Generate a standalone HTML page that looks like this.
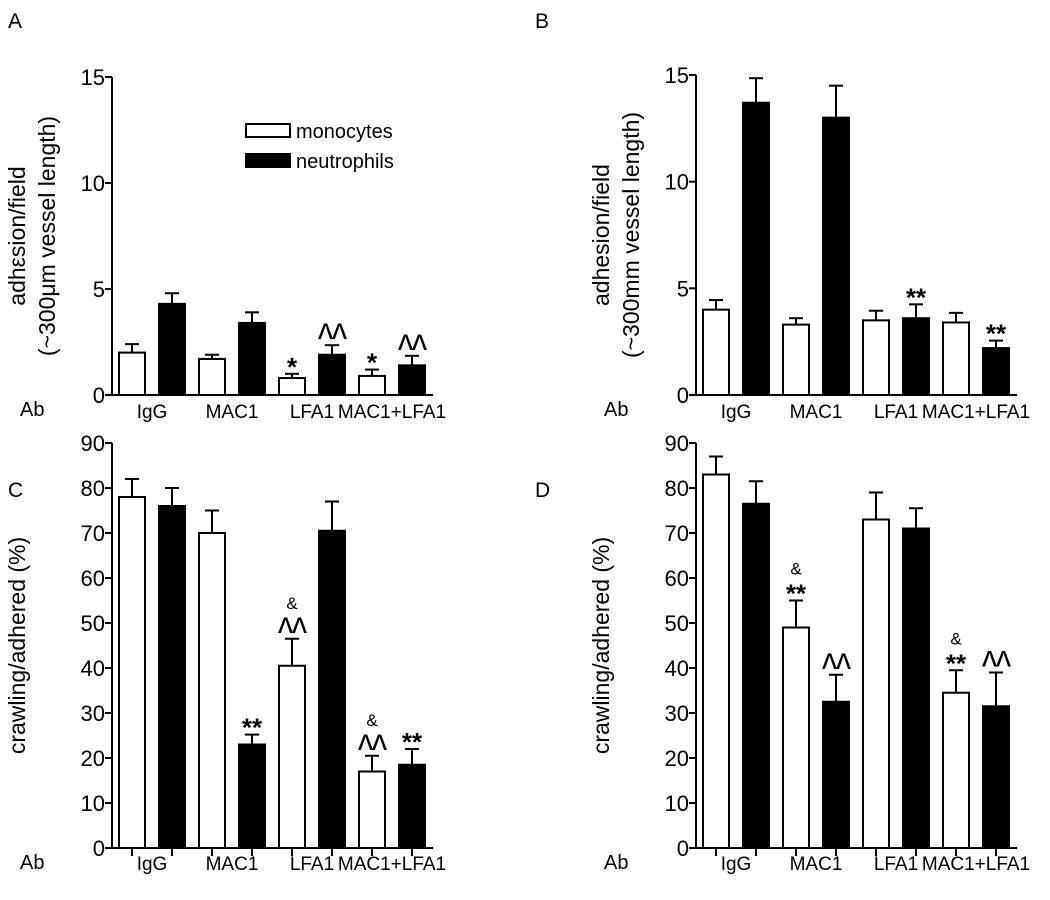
<!DOCTYPE html>
<html><head><meta charset="utf-8"><style>
body{margin:0;background:#fff}
svg{display:block;font-family:"Liberation Sans",Arial,sans-serif}
</style></head><body>
<svg id="fig" width="1050" height="900" viewBox="0 0 1050 900" xmlns="http://www.w3.org/2000/svg"></svg>
<script>
const categories = ["IgG","MAC1","LFA1","MAC1+LFA1"];
const aMono = [2.0,1.7,0.8,0.9], aMonoErr = [0.4,0.2,0.2,0.3];
const aNeut = [4.3,3.4,1.9,1.4], aNeutErr = [0.5,0.5,0.45,0.45];
const bMono = [4.0,3.3,3.5,3.4], bMonoErr = [0.45,0.3,0.45,0.45];
const bNeut = [13.7,13.0,3.6,2.2], bNeutErr = [1.15,1.5,0.65,0.35];
const cMono = [78,70,40.5,17], cMonoErr = [4,5,6,3.5];
const cNeut = [76,23,70.5,18.5], cNeutErr = [4,2.2,6.5,3.5];
const dMono = [83,49,73,34.5], dMonoErr = [4,6,6,5];
const dNeut = [76.5,32.5,71,31.5], dNeutErr = [5,6,4.5,7.5];
const adhTicks = [0,5,10,15];
const crawlTicks = [0,10,20,30,40,50,60,70,80,90];
const aMarks = [["",""],["",""],["*","^^"],["*","^^"]];
const bMarks = [["",""],["",""],["","**"],["","**"]];
const cMarks = [["",""],["","**"],["&|^^",""],["&|^^","**"]];
const dMarks = [["",""],["&|**","^^"],["",""],["&|**","^^"]];

const NS="http://www.w3.org/2000/svg";
const svg=document.getElementById('fig');
function mk(tag,attrs,parent,text){const e=document.createElementNS(NS,tag);for(const k in attrs)e.setAttribute(k,attrs[k]);if(text!==undefined)e.textContent=text;(parent||svg).appendChild(e);return e;}

function panel(p){
  const g=mk('g',{});
  
  
  const y=v=>p.y0-(v/p.ymax)*(p.y0-p.ytop);
  const xc=(i,s)=>p.ax+20+i*80+s*40;
  const lt=mk('text',{x:p.lx,y:p.ly,'font-size':21},g,p.letter);
  
  
  const ya=mk('line',{x1:p.ax,y1:p.y0+1,x2:p.ax,y2:y(p.ymax),stroke:'#000','stroke-width':2},g);
  
  
  p.ticks.forEach(t=>{
    mk('line',{x1:p.ax-7,y1:y(t),x2:p.ax,y2:y(t),stroke:'#000','stroke-width':2},g);
    const tl=mk('text',{x:p.ax-7,y:y(t)+8,'font-size':22,'text-anchor':'end'},g,String(t));
    
    
  });
  const xa=mk('line',{x1:p.ax-7,y1:p.y0,x2:p.ax+321,y2:p.y0,stroke:'#000','stroke-width':2},g);
  
  
  const tx=p.ax-87, ty=(p.y0+y(p.ymax))/2;
  p.title.forEach((line,k)=>{
    const t=mk('text',{x:tx+k*30,y:ty,'font-size':23,'text-anchor':'middle',transform:`rotate(-90 ${tx+k*30} ${ty})`},g,line);
    
    
  });
  const ab=mk('text',{x:p.ax-92,y:p.y0+21,'font-size':20},g,'Ab');
  
  
  categories.forEach((c,i)=>{
    const cl=mk('text',{x:xc(i,0)+20,y:p.y0+(p.xticks?22:23),'font-size':19,'text-anchor':'middle'},g,c);
    
    
    [[p.mono,p.monoErr,'#fff'],[p.neut,p.neutErr,'#000']].forEach((s,si)=>{
      const cx=xc(i,si), v=s[0][i], e=s[1][i];
      mk('line',{x1:cx,y1:y(v),x2:cx,y2:y(v+e),stroke:'#000','stroke-width':2},g);
      mk('line',{x1:cx-7,y1:y(v+e),x2:cx+7,y2:y(v+e),stroke:'#000','stroke-width':2},g);
      const b=mk('rect',{x:cx-13,y:y(v),width:26,height:p.y0-y(v),fill:s[2],stroke:'#000','stroke-width':2},g);
      
      
      if(p.xticks) mk('line',{x1:cx,y1:p.y0,x2:cx,y2:p.y0+8,stroke:'#000','stroke-width':2},g);
      const m=p.marks[i][si];
      if(m){
        const parts=m.split('|').reverse();
        let yy=y(v+e)-6;
        parts.forEach(pt=>{
          let t;
          if(pt==='&'){ t=mk('text',{x:cx,y:yy+2,'font-size':17,'text-anchor':'middle'},g,'&'); yy-=16; }
          else if(pt==='^^'){ t=mk('text',{x:cx,y:yy,'font-size':30,'text-anchor':'middle','letter-spacing':'-1'},g,'ʌʌ'); yy-=26; }
          else { t=mk('text',{x:cx,y:yy+8,'font-size':26,'text-anchor':'middle','font-weight':'bold'},g,pt); yy-=22; }
          
          
        });
      }
    });
  });
}
panel({letter:'A',lx:8,ly:28,ax:112,y0:395,ytop:77,ymax:15,ticks:adhTicks,mono:aMono,monoErr:aMonoErr,neut:aNeut,neutErr:aNeutErr,marks:aMarks,title:['adhεsion/field','(~300μm vessel length)'],xticks:false});
panel({letter:'B',lx:535,ly:28,ax:696,y0:395,ytop:75,ymax:15,ticks:adhTicks,mono:bMono,monoErr:bMonoErr,neut:bNeut,neutErr:bNeutErr,marks:bMarks,title:['adhesion/field','(~300mm vessel length)'],xticks:false});
panel({letter:'C',lx:8,ly:497,ax:112,y0:848,ytop:443,ymax:90,ticks:crawlTicks,mono:cMono,monoErr:cMonoErr,neut:cNeut,neutErr:cNeutErr,marks:cMarks,title:['crawling/adhered (%)'],xticks:true});
panel({letter:'D',lx:535,ly:497,ax:696,y0:848,ytop:443,ymax:90,ticks:crawlTicks,mono:dMono,monoErr:dMonoErr,neut:dNeut,neutErr:dNeutErr,marks:dMarks,title:['crawling/adhered (%)'],xticks:true});
const lg=mk('g',{});


mk('rect',{x:246,y:124,width:44,height:13,fill:'#fff',stroke:'#000','stroke-width':2},lg);
mk('text',{x:296,y:138,'font-size':20},lg,'monocytes');
mk('rect',{x:246,y:154,width:44,height:13,fill:'#000',stroke:'#000','stroke-width':2},lg);
mk('text',{x:296,y:168,'font-size':20},lg,'neutrophils');
</script>
</body></html>
